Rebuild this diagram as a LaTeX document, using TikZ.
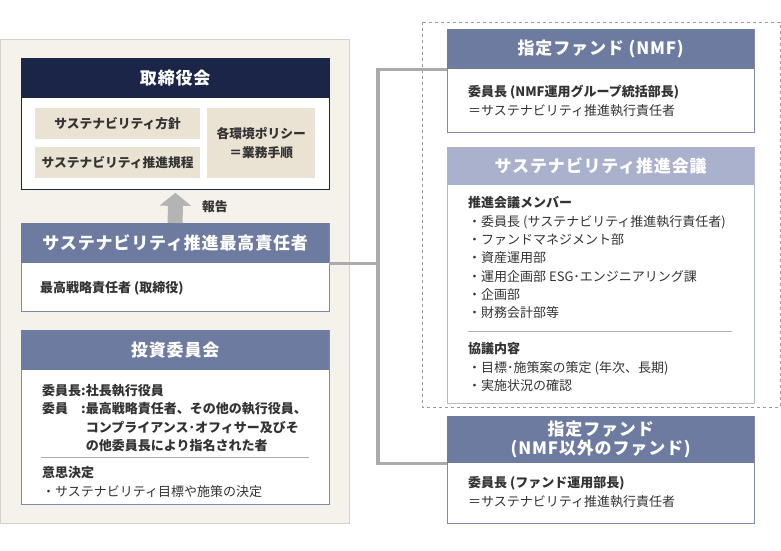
\documentclass[tikz,border=0pt]{standalone}
\usepackage{fontspec}
\setmainfont{Noto Sans CJK JP}
\newfontfamily\headfamily{Noto Sans CJK JP}[LetterSpace=5]
\usepackage{xcolor}
\usetikzlibrary{arrows.meta}
\definecolor{ink}{HTML}{333333}
\definecolor{panelbg}{HTML}{F4F2EB}
\definecolor{panelline}{HTML}{D3D1C9}
\definecolor{navy}{HTML}{1B2548}
\definecolor{slate}{HTML}{6E7BA0}
\definecolor{slateline}{HTML}{8089AA}
\definecolor{haze}{HTML}{A9B1CC}
\definecolor{hazeline}{HTML}{B3BAD1}
\definecolor{tagbg}{HTML}{EAE3D4}
\definecolor{linkgray}{HTML}{ABABAB}
\definecolor{rulegray}{HTML}{AFAFAF}
\definecolor{dashgray}{HTML}{9A9A9A}
\definecolor{arrowgray}{HTML}{B4B4B4}
\newcommand{\headfont}{\fontsize{17}{19}\selectfont\headfamily\bfseries}
\newcommand{\bodyfont}{\fontsize{13}{18.5}\selectfont}
\newcommand{\tagfont}{\fontsize{12.75}{19}\selectfont\bfseries}
\tikzset{
  panel/.style={draw=panelline, fill=panelbg, line width=0.8pt},
  frame/.style={draw=#1, fill=white, line width=0.8pt, anchor=north west,
    minimum width=308pt, inner sep=0pt},
  head/.style={fill=#1, text=white, anchor=north west, minimum width=308pt,
    minimum height=40pt, inner sep=0pt, font=\headfont, align=center},
  tag/.style={fill=tagbg, text=ink, anchor=north west, inner sep=0pt,
    font=\tagfont, align=center},
  bodytext/.style={text=ink, anchor=north west, inner sep=0pt, font=\bodyfont,
    align=left},
  link/.style={draw=linkgray, line width=3.5pt},
  rule/.style={draw=rulegray, line width=0.6pt},
  report/.style={color=arrowgray, line width=15pt,
    -{Triangle[width=31pt,length=13pt]}, shorten >=3pt},
}

\begin{document}
\begin{tikzpicture}[x=1pt, y=-1pt]
  \useasboundingbox (0,0) rectangle (781,550);

  \draw[panel] (0.5,39) rectangle (349,523);
  \draw[draw=dashgray, dashed, line width=0.6pt] (422,22) rectangle (780,407);

  \node[frame=navy, minimum height=131pt] (board) at (21,58) {};
  \node[head=navy] (boardhead) at (21,58) {取締役会};
  \node[tag, minimum width=165pt, minimum height=31pt] (policy) at (35,108) {サステナビリティ方針};
  \node[tag, minimum width=165pt, minimum height=31pt] (rules) at (35,147) {サステナビリティ推進規程};
  \node[tag, minimum width=108pt, minimum height=70pt] (envpol) at (207,108) {各環境ポリシー\\＝業務手順};

  \node[frame=slateline, minimum height=88pt] (cso) at (21,223) {};
  \node[head=slate] (csohead) at (21,223) {サステナビリティ推進最高責任者};
  \node[bodytext, font=\bodyfont\bfseries] (csotxt) at (40,281.5) {最高戦略責任者 (取締役)};

  \draw[report] (csohead.north) -- node[right, xshift=16pt, text=ink, font=\tagfont] {報告} (board.south);

  \node[frame=slateline, minimum height=174pt] (invest) at (21,330) {};
  \node[head=slate] (investhead) at (21,330) {投資委員会};
  \node[bodytext, font=\bodyfont\bfseries] (investtxt) at (42,382) {\begin{tabular}{@{}l@{}l@{}l@{}}
    委員長 & : & 社長執行役員\\
    委員 & : & 最高戦略責任者、その他の執行役員、\\
    & & コンプライアンス･オフィサー及びそ\\
    & & の他委員長により指名された者
  \end{tabular}};
  \draw[rule] (41,457) -- (309,457);
  \node[bodytext] (decide) at (42,466.5) {\textbf{意思決定}\\・サステナビリティ目標や施策の決定};

  \node[frame=slateline, minimum width=307pt, minimum height=103pt] (nmf) at (447,29) {};
  \node[head=slate, minimum width=307pt] (nmfhead) at (447,29) {指定ファンド (NMF)};
  \node[bodytext, font=\fontsize{13}{19}\selectfont] (nmftxt) at (468,84.5) {\textbf{委員長 (NMF運用グループ統括部長)}\\＝サステナビリティ推進執行責任者};

  \node[frame=hazeline, minimum width=307pt, minimum height=256pt] (promo) at (447,147) {};
  \node[head=haze, minimum width=307pt, minimum height=38pt] (promohead) at (447,147) {サステナビリティ推進会議};
  \node[bodytext, font=\fontsize{13}{18.3}\selectfont] (members) at (468,196.5) {\textbf{推進会議メンバー}\\
    ・委員長 (サステナビリティ推進執行責任者)\\
    ・ファンドマネジメント部\\
    ・資産運用部\\
    ・運用企画部 ESG･エンジニアリング課\\
    ・企画部\\
    ・財務会計部等};
  \draw[rule] (468,331) -- (732,331);
  \node[bodytext] (agenda) at (468,342.5) {\textbf{協議内容}\\
    ・目標･施策案の策定 (年次、長期)\\
    ・実施状況の確認};

  \node[frame=slateline, minimum width=307pt, minimum height=107pt] (other) at (447,416) {};
  \node[head=slate, minimum width=307pt, minimum height=47pt] (otherhead) at (447,416) {指定ファンド\\(NMF以外のファンド)};
  \node[bodytext, font=\fontsize{13}{19}\selectfont] (othertxt) at (468,476.5) {\textbf{委員長 (ファンド運用部長)}\\＝サステナビリティ推進執行責任者};

  \coordinate (spine) at (378,0);
  \draw[link] (csohead.south east) -- (csohead.south east -| spine) |- (nmfhead.south west);
  \draw[link] (csohead.south east -| spine) |- (otherhead.south west);
\end{tikzpicture}
\end{document}
